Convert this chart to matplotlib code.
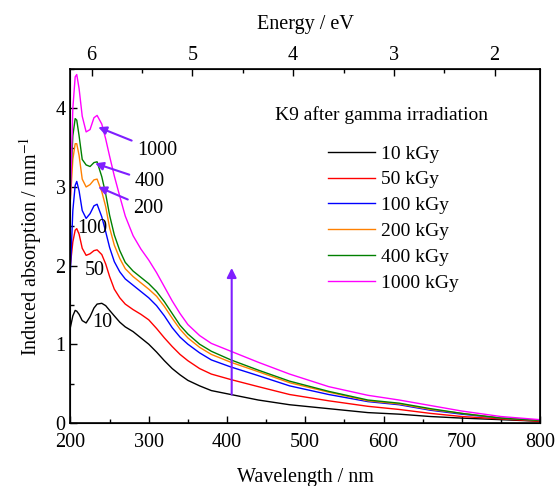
import matplotlib
matplotlib.use("Agg")
import matplotlib.pyplot as plt
from matplotlib.ticker import MultipleLocator

plt.rcParams['font.family'] = ['Liberation Serif', 'DejaVu Serif']
plt.rcParams['mathtext.fontset'] = 'stix'

# wavelength grid (nm)
wl = [200, 203, 206, 208, 211, 215, 220, 225, 230, 234, 240, 245, 250, 256, 263, 270, 280,
      290, 300, 310, 320, 330, 340, 350, 365, 380, 405, 440, 480, 530, 580, 620, 660, 700, 750, 800]

# induced absorption (mm^-1) for each dose
a10 = [1.22, 1.36, 1.43, 1.42, 1.38, 1.30, 1.27, 1.35, 1.46, 1.51, 1.52, 1.49, 1.43, 1.36, 1.28, 1.22, 1.16,
       1.08, 1.00, 0.90, 0.79, 0.69, 0.61, 0.54, 0.47, 0.41, 0.36, 0.29, 0.23, 0.18, 0.13, 0.11, 0.08, 0.06, 0.04, 0.02]
a50 = [2.02, 2.30, 2.45, 2.47, 2.40, 2.22, 2.13, 2.15, 2.19, 2.20, 2.14, 2.02, 1.86, 1.70, 1.59, 1.51, 1.44,
       1.38, 1.31, 1.20, 1.08, 0.97, 0.87, 0.79, 0.69, 0.62, 0.55, 0.46, 0.36, 0.28, 0.21, 0.17, 0.12, 0.08, 0.05, 0.02]
a100 = [1.95, 2.70, 3.02, 3.07, 2.95, 2.70, 2.60, 2.66, 2.76, 2.78, 2.62, 2.43, 2.23, 2.05, 1.92, 1.83, 1.75,
        1.67, 1.59, 1.49, 1.36, 1.21, 1.09, 1.00, 0.89, 0.80, 0.71, 0.60, 0.47, 0.36, 0.27, 0.23, 0.16, 0.11, 0.06, 0.03]
a200 = [2.85, 3.35, 3.55, 3.55, 3.40, 3.10, 3.00, 3.03, 3.09, 3.10, 2.94, 2.75, 2.48, 2.26, 2.09, 1.96, 1.86,
        1.78, 1.70, 1.61, 1.48, 1.33, 1.19, 1.08, 0.96, 0.87, 0.77, 0.65, 0.51, 0.39, 0.28, 0.24, 0.17, 0.12, 0.06, 0.03]
a400 = [3.00, 3.65, 3.87, 3.85, 3.65, 3.35, 3.28, 3.26, 3.31, 3.32, 3.13, 2.91, 2.64, 2.39, 2.19, 2.04, 1.93,
        1.85, 1.77, 1.67, 1.54, 1.39, 1.24, 1.13, 1.00, 0.91, 0.80, 0.67, 0.53, 0.40, 0.29, 0.25, 0.18, 0.12, 0.06, 0.03]
a1000 = [2.90, 4.00, 4.40, 4.43, 4.25, 3.90, 3.70, 3.73, 3.88, 3.91, 3.80, 3.61, 3.39, 3.14, 2.88, 2.63, 2.38,
         2.21, 2.07, 1.91, 1.73, 1.55, 1.39, 1.25, 1.11, 1.01, 0.91, 0.77, 0.62, 0.46, 0.35, 0.29, 0.22, 0.15, 0.08, 0.04]

series = [a10, a50, a100, a200, a400, a1000]
doses = ['10 kGy', '50 kGy', '100 kGy', '200 kGy', '400 kGy', '1000 kGy']
colors = ['black', '#ff0000', '#0000ff', '#ff8000', '#008000', '#ff00ff']

energy_ticks = [6, 5, 4, 3, 2]
arrow_col = '#7f1fff'

fig = plt.figure(figsize=(5.55, 4.86), dpi=100)
ax = fig.add_axes([0.127, 0.130, 0.846, 0.728])

lines = []
for y, c, lab in zip(series, colors, doses):
    l, = ax.plot(wl, y, color=c, lw=1.0, label=lab)
    lines.append(l)

ax.set_xlim(200, 800)
ax.set_ylim(0, 4.5)
ax.xaxis.set_major_locator(MultipleLocator(100))
ax.xaxis.set_minor_locator(MultipleLocator(50))
ax.yaxis.set_major_locator(MultipleLocator(1))
ax.yaxis.set_minor_locator(MultipleLocator(0.5))
ax.tick_params(which='both', direction='in', top=False, right=False, labelsize=14.5)
ax.tick_params(axis='x', pad=7)
ax.tick_params(which='major', length=5, width=1)
ax.tick_params(which='minor', length=3, width=1)
for s in ax.spines.values():
    s.set_linewidth(1.2)

ax.set_xlabel('Wavelength / nm', fontsize=14.5, labelpad=12)
ax.set_ylabel('Induced absorption / mm$^{-1}$', fontsize=14.5, labelpad=8)

# top energy axis
ax2 = ax.twiny()
ax2.set_xlim(6.21, 1.55)
ax2.set_xticks(energy_ticks)
ax2.xaxis.set_minor_locator(MultipleLocator(0.5))
ax2.tick_params(which='both', direction='in', labelsize=14.5, pad=3)
ax2.tick_params(which='major', length=5, width=1)
ax2.tick_params(which='minor', length=3, width=1)
ax2.set_xlabel('Energy / eV', fontsize=14.5, labelpad=12)

# curve labels
ax.annotate('1000', xy=(235.5, 3.76), xytext=(285, 3.46), fontsize=14.5, va='center',
            arrowprops=dict(arrowstyle='-|>', color=arrow_col, lw=1.5, shrinkA=2, shrinkB=0,
                            mutation_scale=12))
ax.annotate('400', xy=(231.5, 3.30), xytext=(282, 3.07), fontsize=14.5, va='center',
            arrowprops=dict(arrowstyle='-|>', color=arrow_col, lw=1.5, shrinkA=2, shrinkB=0,
                            mutation_scale=12))
ax.annotate('200', xy=(235.5, 3.00), xytext=(280, 2.73), fontsize=14.5, va='center',
            arrowprops=dict(arrowstyle='-|>', color=arrow_col, lw=1.5, shrinkA=2, shrinkB=0,
                            mutation_scale=12))
ax.text(208, 2.47, '100', fontsize=14.5, va='center')
ax.text(218.5, 1.94, '50', fontsize=14.5, va='center')
ax.text(227.5, 1.27, '10', fontsize=14.5, va='center')

# growth arrow
ax.annotate('', xy=(406, 1.97), xytext=(406, 0.36),
            arrowprops=dict(arrowstyle='-|>', color=arrow_col, lw=1.5, shrinkA=0, shrinkB=0,
                            mutation_scale=14))

ax.text(0.436, 0.87, 'K9 after gamma irradiation', transform=ax.transAxes,
        fontsize=14, va='center')
ax.legend(handles=lines, loc='upper left', bbox_to_anchor=(0.549, 0.785), frameon=False,
          fontsize=14, handlelength=2.4, handletextpad=0.3, labelspacing=0.42,
          borderpad=0, borderaxespad=0)

fig.savefig('out.png', dpi=100)
